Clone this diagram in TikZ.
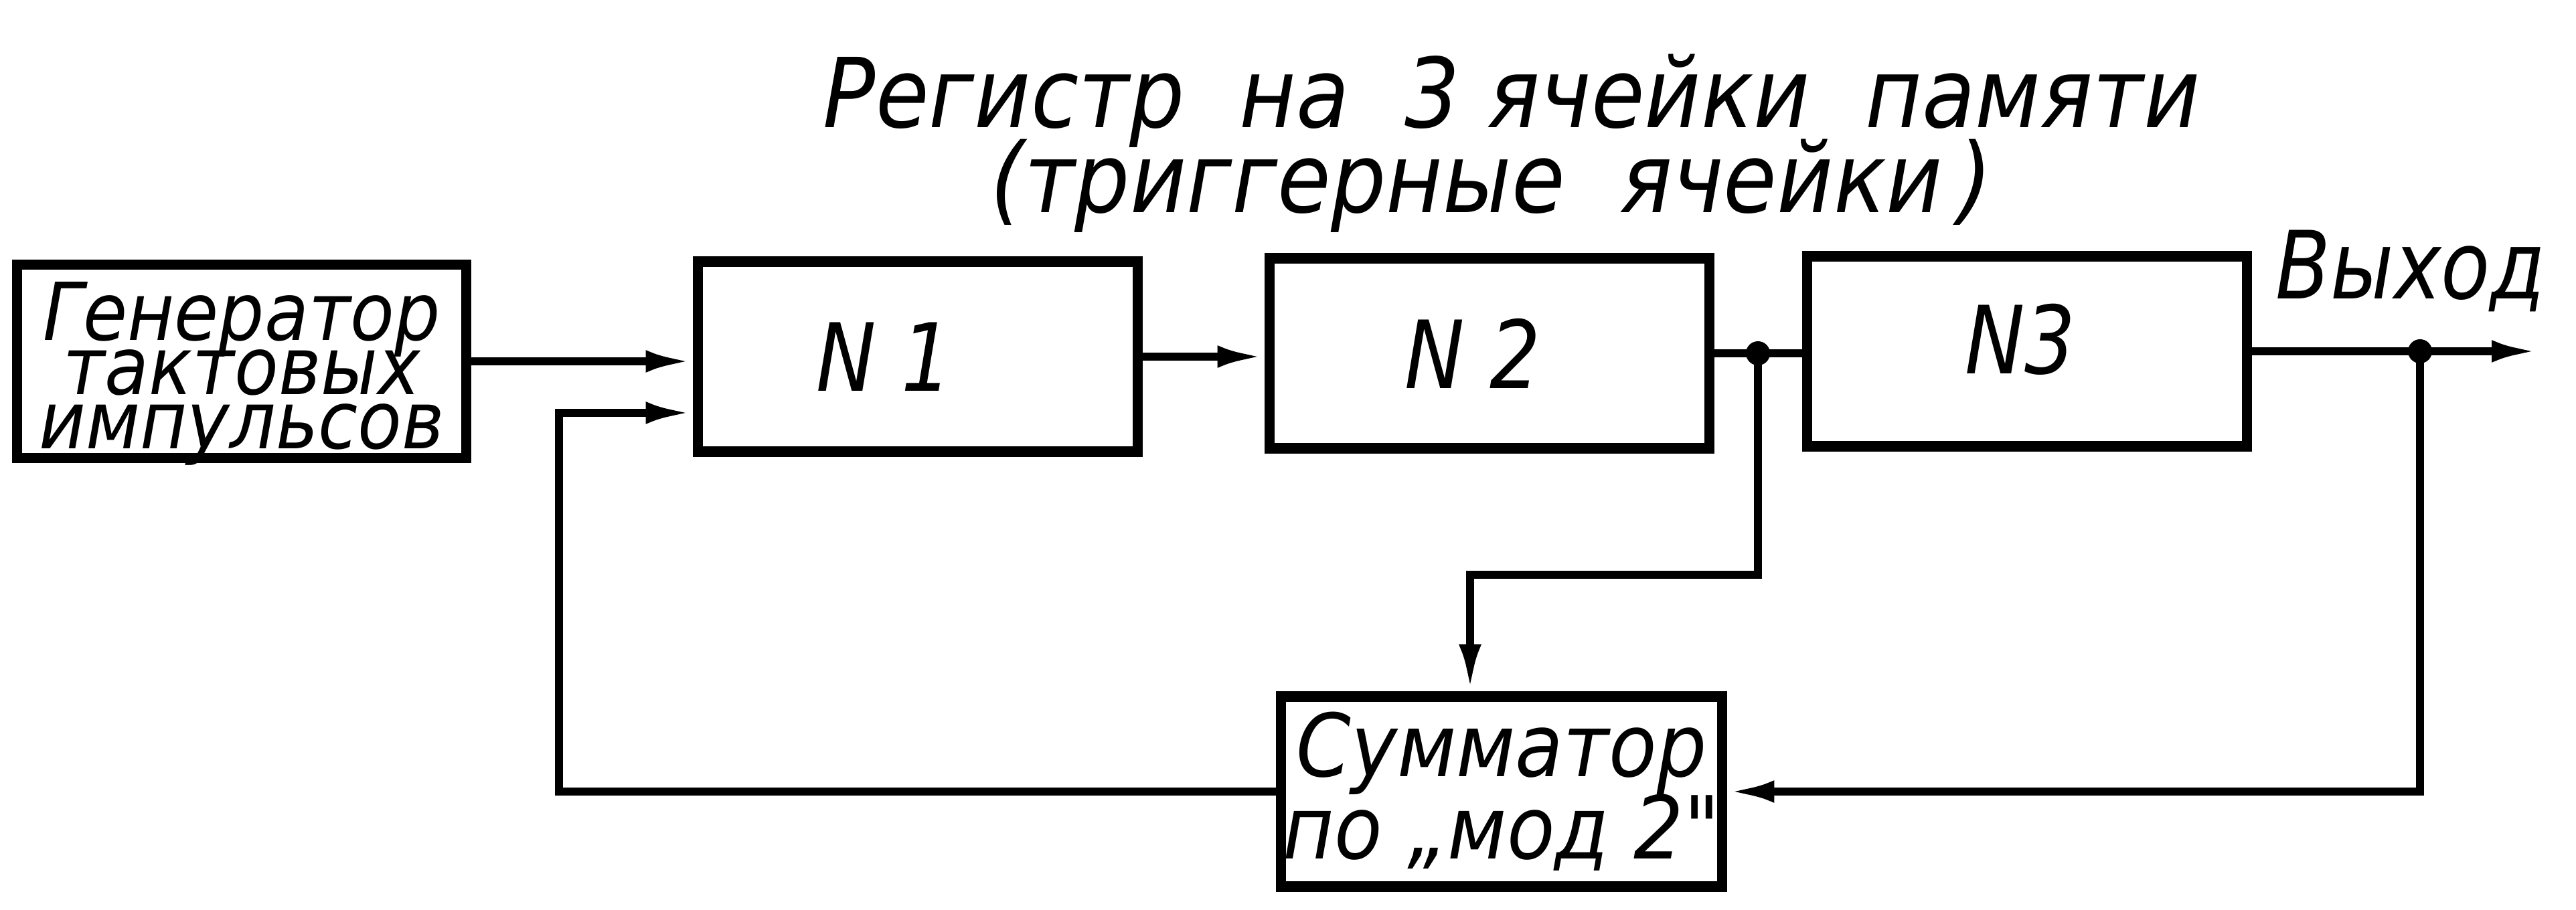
\documentclass[tikz,border=0pt]{standalone}
\usepackage{fontspec}
\newfontfamily\gost[FakeStretch=0.85]{DejaVu Sans}
\newfontfamily\gostw[FakeStretch=0.9]{DejaVu Sans}
\newcommand{\tightlines}{\lineskiplimit-40pt\relax}
\usetikzlibrary{arrows.meta}

\tikzset{
  block/.style={draw, line width=4.5pt, minimum width=6.57cm, minimum height=2.84cm,
    inner sep=0pt, align=center},
  lab/.style={font=\gost\itshape\fontsize{40}{35}\selectfont},
  wire/.style={line width=3.4pt},
  feed/.style={wire, -{Latex[length=7mm,width=3.3mm]}},
  joint/.style={circle, fill, inner sep=0pt, minimum size=3.6mm}
}

\begin{document}
\begin{tikzpicture}
  \useasboundingbox (0,0) rectangle (38.48,-13.60);
  % blocks
  \node[block, minimum width=6.71cm, minimum height=2.89cm] (gen) at (3.61,-5.40) {};
  \node[align=center, inner sep=0pt,
        font={\gostw\itshape\fontsize{34}{23}\selectfont\tightlines}] (gentext) at (3.61,-5.585)
        {Генератор\\тактовых\\импульсов};
  \node[block, lab] (reg1) at (13.71,-5.33) {N 1\hspace{10mm}};
  \node[block, lab] (reg2) at (22.25,-5.28) {N 2\hspace{5mm}};
  \node[block, lab] (reg3) at (30.28,-5.25) {\raisebox{3.7mm}{N3}\hspace{2mm}};
  \node[block, minimum width=6.59cm,
        font={\gostw\itshape\fontsize{37}{35}\selectfont\tightlines}] (sum) at (22.43,-11.83)
        {Сумматор\\по „мод 2"};
  % labels
  \node[lab, anchor=base, font=\gostw\itshape\fontsize{41}{35}\selectfont] (title) at (22.58,-1.91)
        {Регистр\ \ на\ \ 3 ячейки\ \ памяти};
  \node[lab, anchor=base, font=\gostw\itshape\fontsize{41}{35}\selectfont] (subtitle) at (22.28,-3.18)
        {(триггерные\ \ ячейки\,)};
  \node[lab, anchor=base] (outlab) at (36.01,-4.47) {Выход};
  % joints
  \node[joint] (j2) at (26.26,-5.28) {};
  \node[joint] (jout) at (36.15,-5.25) {};
  \coordinate (outend) at (37.92,-5.25);
  \coordinate (bend) at (21.96,-8.59);
  \coordinate (fbl) at (8.35,-6.17);
  % connections
  \draw[feed] (gen.east) -- (gen.east -| reg1.west);
  \draw[feed] (reg1.east) -- (reg1.east -| reg2.west);
  \draw[wire] (reg2.east) -- (reg2.east -| reg3.west);
  \draw[feed] (reg3.east) -- (outend);
  \draw[feed] (j2.center) |- (bend) -- (bend |- sum.north);
  \draw[feed] (jout.center) |- (sum.east);
  \draw[feed] (sum.west) -| (fbl) -- (fbl -| reg1.west);
\end{tikzpicture}
\end{document}
